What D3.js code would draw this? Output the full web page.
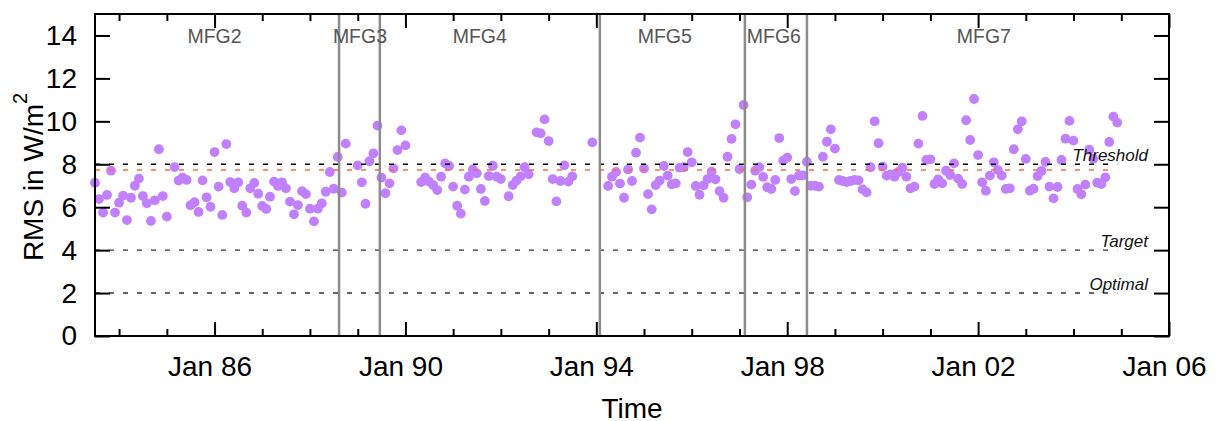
<!DOCTYPE html>
<html>
<head>
<meta charset="utf-8">
<script src="https://cdn.jsdelivr.net/npm/d3@7"></script>
<style>
body { margin: 0; background: #fff; }
text { font-family: "Liberation Sans", Arial, Helvetica, sans-serif; }
</style>
</head>
<body>
<div id="chart"></div>
<script>
//////////////////////////////////////////////////////////////////////////////
// Data (monthly RMS, first value is Jul 1983, null = no value)

var firstMonth = "1983-07";
var rms = [
                                      7.14, 6.38, 5.75, 6.57, 7.70, 5.75,   // 1983
    6.21, 6.54, 5.40, 6.44, 7.00, 7.33, 6.52, 6.18, 5.36, 6.32, 8.70, 6.52,   // 1984
    5.56, null, 7.87, 7.24, 7.38, 7.27, 6.09, 6.23, 5.78, 7.25, 6.46, 6.02,   // 1985
    8.57, 6.96, 5.64, 8.94, 7.17, 6.88, 7.16, 6.07, 5.75, 6.88, 7.13, 6.63,   // 1986
    6.06, 5.92, 6.49, 7.19, 6.99, 7.16, 6.88, 6.26, 5.67, 6.10, 6.75, 6.61,   // 1987
    5.93, 5.34, 5.93, 6.18, 6.72, 7.64, 6.86, 8.34, 6.68, 8.96, null, null,   // 1988
    7.95, 7.16, 6.16, 8.14, 8.51, 9.80, 7.38, 6.65, 7.11, 7.81, 8.66, 9.58,   // 1989
    8.88, null, null, null, 7.17, 7.38, 7.19, 7.03, 6.80, 7.42, 8.04, 7.92,   // 1990
    6.96, 6.07, 5.70, 6.82, 7.42, 7.76, 7.58, 6.85, 6.29, 7.45, 7.93, 7.42,   // 1991
    7.31, null, 6.51, 7.03, 7.24, 7.44, 7.86, 7.53, null, 9.49, 9.44, 10.09,  // 1992
    9.08, 7.31, 6.27, 7.22, 7.95, 7.19, 7.44, null, null, null, null, 9.02,   // 1993
    null, null, null, 6.99, 7.42, 7.64, 7.10, 6.44, 7.76, 7.22, 8.54, 9.24,   // 1994
    7.80, 6.61, 5.90, 7.03, 7.24, 7.92, 7.47, 7.07, 7.11, 7.84, 7.86, 8.57,   // 1995
    8.09, 6.99, 6.58, 7.02, 7.31, 7.66, 7.30, 6.75, 6.44, 8.35, 9.18, 9.86,   // 1996
    7.78, 10.76, 6.46, 7.05, 7.70, 7.86, 7.41, 6.93, 6.85, 7.27, 9.22, 8.17,  // 1997
    8.31, 7.31, 6.75, 7.48, 7.48, 8.12, 7.00, 7.00, 6.96, 8.35, 9.05, 9.63,   // 1998
    8.73, 7.27, 7.22, 7.17, 7.22, 7.27, 7.25, 6.83, 6.69, 7.86, 10.00, 8.98,  // 1999
    7.89, 7.47, 7.53, 7.42, 7.64, 7.84, 7.42, 6.88, 6.96, 8.96, 10.25, 8.20,  // 2000
    8.23, 7.08, 7.30, 7.11, 7.70, 7.50, 8.04, 7.33, 7.08, 10.05, 9.13, 11.04, // 2001
    8.43, 7.16, 6.77, 7.47, 8.09, 7.73, 7.47, 6.85, 6.88, 8.70, 9.63, 10.00,  // 2002
    8.25, 6.77, 6.86, 7.45, 7.69, 8.11, 6.96, 6.41, 6.94, 8.20, 9.19, 10.02,  // 2003
    9.10, 6.85, 6.60, 7.05, 8.68, 8.26, 7.14, 7.08, 7.39, 9.04, 10.22, 9.94   // 2004
];

var satNames      = ["MFG2", "MFG3", "MFG4", "MFG5", "MFG6", "MFG7"];
var satLabelDates = ["1986-01-01", "1989-01-18", "1991-07-24", "1995-06-09", "1997-09-21", "2002-02-14"];
var switchDates   = ["1988-08-11", "1989-06-19", "1994-01-28", "1997-02-11", "1998-06-01"];

var refLevels = [8, 4, 2];
var refNames  = ["Threshold", "Target", "Optimal"];
var meanLevel = 7.73;

var yTicks     = [0, 2, 4, 6, 8, 10, 12, 14];
var xMajorYrs  = [1986, 1990, 1994, 1998, 2002, 2006];
var xMinorYrs  = [1984, 1985, 1987, 1988, 1989, 1991, 1992, 1993, 1995, 1996, 1997,
                  1999, 2000, 2001, 2003, 2004, 2005];

//////////////////////////////////////////////////////////////////////////////
// Setup

var W = 1217, H = 421;
var plotL = 95, plotR = 1169, plotT = 14, plotB = 336;
var parseDay = d3.timeParse("%Y-%m-%d");
var parseMonth = d3.timeParse("%Y-%m");

var x = d3.scaleTime()
    .domain([new Date(1983, 6, 1), new Date(2006, 0, 1)])
    .range([plotL, plotR]);
var y = d3.scaleLinear().domain([0, 15]).range([plotB, plotT]);

var start = parseMonth(firstMonth);
var points = rms.map(function(v, i) {
    return { date: d3.timeMonth.offset(start, i), v: v };
}).filter(function(d) { return d.v !== null; });
var lastDate = d3.timeMonth.offset(start, rms.length - 1);

var svg = d3.select("#chart").append("svg")
    .attr("width", W).attr("height", H);

//////////////////////////////////////////////////////////////////////////////
// Points

svg.append("g").selectAll("circle")
    .data(points).enter()
    .append("circle")
    .attr("cx", function(d) { return x(d.date); })
    .attr("cy", function(d) { return y(d.v); })
    .attr("r", 4.9)
    .attr("fill", "#c080ff");

//////////////////////////////////////////////////////////////////////////////
// Reference lines

svg.append("line")
    .attr("x1", plotL).attr("x2", x(lastDate))
    .attr("y1", y(meanLevel)).attr("y2", y(meanLevel))
    .attr("stroke", "#ff6a3c").attr("stroke-width", 1.5)
    .attr("stroke-dasharray", "5,9");

svg.append("g").selectAll("line")
    .data(refLevels).enter()
    .append("line")
    .attr("x1", plotL).attr("x2", x(lastDate))
    .attr("y1", function(d) { return y(d); })
    .attr("y2", function(d) { return y(d); })
    .attr("stroke", function(d, i) { return i === 0 ? "#000" : "#333"; })
    .attr("stroke-width", 1.4)
    .attr("stroke-dasharray", "5,9");

svg.append("g").selectAll("text")
    .data(refLevels).enter()
    .append("text")
    .attr("x", plotR - 21)
    .attr("y", function(d) { return y(d) - 3; })
    .attr("text-anchor", "end")
    .attr("font-size", "17px")
    .attr("font-style", "italic")
    .attr("fill", "#111")
    .text(function(d, i) { return refNames[i]; });

//////////////////////////////////////////////////////////////////////////////
// Satellite switches

svg.append("g").selectAll("line")
    .data(switchDates).enter()
    .append("line")
    .attr("x1", function(d) { return x(parseDay(d)); })
    .attr("x2", function(d) { return x(parseDay(d)); })
    .attr("y1", plotT).attr("y2", plotB)
    .attr("stroke", "#8c8c8c").attr("stroke-width", 2.5);

svg.append("g").selectAll("text")
    .data(satNames).enter()
    .append("text")
    .attr("x", function(d, i) { return x(parseDay(satLabelDates[i])); })
    .attr("y", 43)
    .attr("text-anchor", "middle")
    .attr("font-size", "19.5px")
    .attr("fill", "#555")
    .text(function(d) { return d; });

//////////////////////////////////////////////////////////////////////////////
// Axes

function yearDate(yr) { return new Date(yr, 0, 1); }

function styleAxis(g) {
    g.select(".domain").remove();
    g.selectAll(".tick line").attr("stroke", "#000").attr("stroke-width", 2);
    g.selectAll(".tick text").attr("fill", "#000")
        .attr("font-size", "28px")
        .attr("font-family", "'Liberation Sans', Arial, Helvetica, sans-serif");
}

var bx = svg.append("g").attr("transform", "translate(0," + plotB + ")")
    .call(d3.axisBottom(x).tickValues(xMajorYrs.map(yearDate))
        .tickSize(-14).tickPadding(20).tickFormat(d3.timeFormat("%b %y")))
    .call(styleAxis);
bx.selectAll(".tick text").attr("dx", -5);

svg.append("g").attr("transform", "translate(0," + plotB + ")")
    .call(d3.axisBottom(x).tickValues(xMinorYrs.map(yearDate)).tickSize(-7).tickFormat(""))
    .call(styleAxis);

svg.append("g").attr("transform", "translate(0," + plotT + ")")
    .call(d3.axisTop(x).tickValues(xMajorYrs.map(yearDate)).tickSize(-14).tickFormat(""))
    .call(styleAxis);

svg.append("g").attr("transform", "translate(0," + plotT + ")")
    .call(d3.axisTop(x).tickValues(xMinorYrs.map(yearDate)).tickSize(-7).tickFormat(""))
    .call(styleAxis);

svg.append("g").attr("transform", "translate(" + plotL + ",0)")
    .call(d3.axisLeft(y).tickValues(yTicks).tickSize(-15).tickPadding(18))
    .call(styleAxis);

svg.append("g").attr("transform", "translate(" + plotR + ",0)")
    .call(d3.axisRight(y).tickValues(yTicks).tickSize(-15).tickFormat(""))
    .call(styleAxis);

svg.append("rect")
    .attr("x", plotL).attr("y", plotT)
    .attr("width", plotR - plotL).attr("height", plotB - plotT)
    .attr("fill", "none").attr("stroke", "#000").attr("stroke-width", 2);

//////////////////////////////////////////////////////////////////////////////
// Axis titles

svg.append("text")
    .attr("x", (plotL + plotR) / 2).attr("y", 418)
    .attr("text-anchor", "middle")
    .attr("font-size", "28px")
    .text("Time");

var yl = svg.append("text")
    .attr("transform", "translate(43," + ((plotT + plotB) / 2 + 2) + ") rotate(-90)")
    .attr("text-anchor", "middle")
    .attr("font-size", "28px");
yl.append("tspan").text("RMS in W/m");
yl.append("tspan").attr("font-size", "20px").attr("dy", -16).text("2");

</script>
</body>
</html>
